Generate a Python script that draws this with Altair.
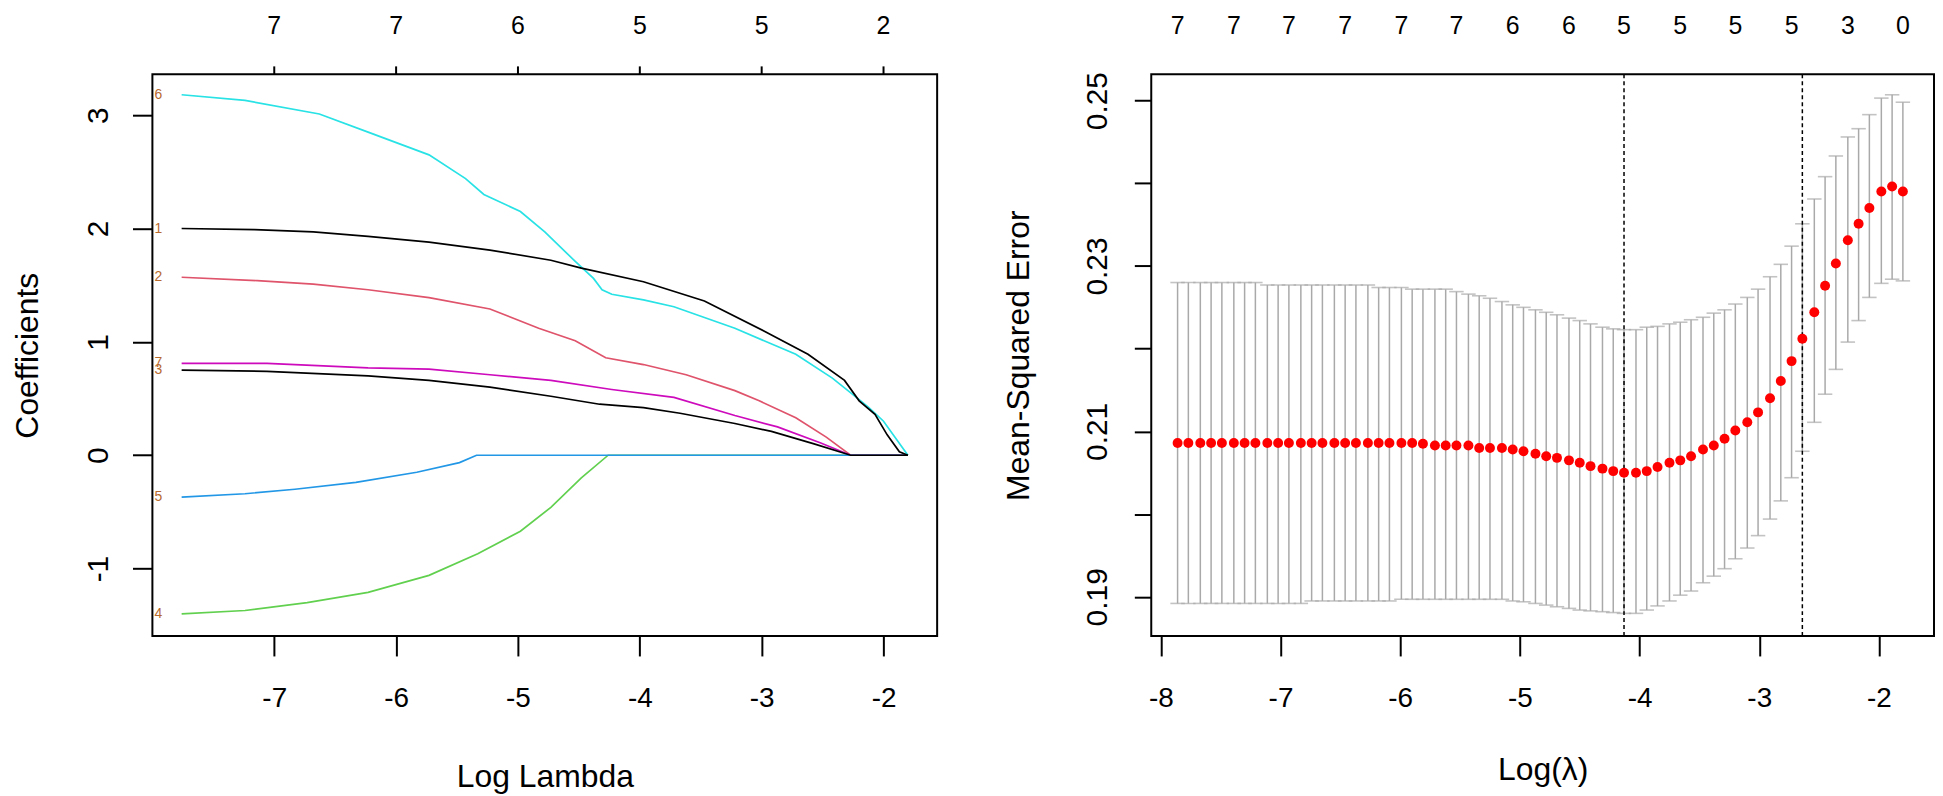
import altair as alt
import pandas as pd

FONT = "Liberation Sans"

# ---------------- Left panel: coefficient paths ----------------
v6_x = [-7.76, -7.24, -6.63, -6.23, -5.73, -5.43, -5.28, -4.98, -4.78, -4.53, -4.38, -4.31, -4.23, -3.97, -3.72, -3.22, -2.72, -2.42, -2.21, -2.12, -2.00, -1.80]
v6_y = [3.18, 3.13, 3.01, 2.85, 2.65, 2.44, 2.30, 2.15, 1.97, 1.71, 1.56, 1.46, 1.42, 1.37, 1.31, 1.12, 0.89, 0.68, 0.50, 0.42, 0.30, 0.00]
v1_x = [-7.76, -7.16, -6.68, -6.23, -5.73, -5.23, -4.73, -4.48, -3.97, -3.47, -2.97, -2.62, -2.32, -2.20, -2.07, -1.97, -1.87, -1.80]
v1_y = [2.00, 1.99, 1.97, 1.93, 1.88, 1.81, 1.72, 1.65, 1.53, 1.36, 1.09, 0.89, 0.66, 0.48, 0.36, 0.18, 0.03, 0.00]
v2_x = [-7.76, -7.14, -6.68, -6.23, -5.73, -5.23, -4.83, -4.53, -4.28, -3.97, -3.62, -3.22, -3.02, -2.72, -2.47, -2.27, -1.80]
v2_y = [1.57, 1.54, 1.51, 1.46, 1.39, 1.29, 1.12, 1.01, 0.86, 0.80, 0.71, 0.57, 0.48, 0.33, 0.16, 0.00, 0.00]
v7_x = [-7.76, -7.06, -6.23, -5.73, -5.23, -4.73, -4.23, -3.72, -3.22, -2.87, -2.52, -2.27, -1.80]
v7_y = [0.81, 0.81, 0.77, 0.76, 0.71, 0.66, 0.58, 0.51, 0.35, 0.25, 0.11, 0.00, 0.00]
v3_x = [-7.76, -7.06, -6.23, -5.73, -5.23, -4.73, -4.33, -3.97, -3.67, -3.22, -2.92, -2.57, -2.27, -1.80]
v3_y = [0.75, 0.74, 0.70, 0.66, 0.60, 0.52, 0.45, 0.42, 0.37, 0.28, 0.21, 0.10, 0.00, 0.00]
v5_x = [-7.76, -7.24, -6.83, -6.33, -5.83, -5.48, -5.34, -1.80]
v5_y = [-0.37, -0.34, -0.30, -0.24, -0.15, -0.065, 0.00, 0.00]
v4_x = [-7.76, -7.24, -6.73, -6.23, -5.73, -5.33, -4.98, -4.73, -4.48, -4.26, -1.80]
v4_y = [-1.40, -1.37, -1.30, -1.21, -1.06, -0.87, -0.67, -0.46, -0.20, 0.00, 0.00]

# drawing order, label, colour
paths = [
    ("4", v4_x, v4_y, "#61D04F"),
    ("2", v2_x, v2_y, "#DF536B"),
    ("7", v7_x, v7_y, "#CD0BBC"),
    ("5", v5_x, v5_y, "#2297E6"),
    ("6", v6_x, v6_y, "#28E2E5"),
    ("1", v1_x, v1_y, "#000000"),
    ("3", v3_x, v3_y, "#000000"),
]

top_left_at = [-7, -6, -5, -4, -3, -2]
top_left_labels = ["7", "7", "6", "5", "5", "2"]

# ---------------- Right panel: cross-validation curve ----------------
log_lambda = [-7.86, -7.77, -7.67, -7.58, -7.49, -7.39, -7.30, -7.21, -7.11, -7.02,
              -6.93, -6.83, -6.74, -6.65, -6.55, -6.46, -6.37, -6.27, -6.18, -6.09,
              -5.99, -5.90, -5.81, -5.71, -5.62, -5.53, -5.43, -5.34, -5.25, -5.15,
              -5.06, -4.97, -4.87, -4.78, -4.69, -4.59, -4.50, -4.41, -4.31, -4.22,
              -4.13, -4.03, -3.94, -3.85, -3.75, -3.66, -3.57, -3.47, -3.38, -3.29,
              -3.20, -3.10, -3.01, -2.91, -2.82, -2.73, -2.64, -2.54, -2.45, -2.36,
              -2.26, -2.17, -2.08, -1.98, -1.89, -1.80]
cvm = [0.2086, 0.2086, 0.2086, 0.2086, 0.2086, 0.2086, 0.2086, 0.2086, 0.2086, 0.2086,
       0.2086, 0.2086, 0.2086, 0.2086, 0.2086, 0.2086, 0.2086, 0.2086, 0.2086, 0.2086,
       0.2086, 0.2086, 0.2085, 0.2083, 0.2083, 0.2083, 0.2083, 0.2080, 0.2080, 0.2080,
       0.2078, 0.2076, 0.2073, 0.2070, 0.2068, 0.2065, 0.2062, 0.2058, 0.2055, 0.2052,
       0.2050, 0.2050, 0.2052, 0.2057, 0.2062, 0.2065, 0.2070, 0.2078, 0.2083, 0.2091,
       0.2101, 0.2111, 0.2123, 0.2140, 0.2161, 0.2185, 0.2212, 0.2244, 0.2276, 0.2303,
       0.2331, 0.2351, 0.2370, 0.2390, 0.2396, 0.2390]
cvup = [0.2280, 0.2280, 0.2280, 0.2280, 0.2280, 0.2280, 0.2280, 0.2280, 0.2277, 0.2277,
        0.2277, 0.2277, 0.2277, 0.2277, 0.2277, 0.2277, 0.2277, 0.2277, 0.2274, 0.2274,
        0.2274, 0.2272, 0.2272, 0.2272, 0.2272, 0.2269, 0.2266, 0.2264, 0.2261, 0.2257,
        0.2253, 0.2250, 0.2247, 0.2244, 0.2241, 0.2237, 0.2234, 0.2230, 0.2226, 0.2224,
        0.2223, 0.2223, 0.2226, 0.2227, 0.2230, 0.2232, 0.2235, 0.2238, 0.2243, 0.2247,
        0.2254, 0.2262, 0.2272, 0.2287, 0.2302, 0.2324, 0.2351, 0.2381, 0.2408, 0.2433,
        0.2456, 0.2466, 0.2483, 0.2503, 0.2507, 0.2498]
cvlo = [0.1892, 0.1892, 0.1892, 0.1892, 0.1892, 0.1892, 0.1892, 0.1892, 0.1892, 0.1892,
        0.1892, 0.1892, 0.1895, 0.1895, 0.1895, 0.1895, 0.1895, 0.1895, 0.1895, 0.1895,
        0.1897, 0.1897, 0.1897, 0.1897, 0.1897, 0.1897, 0.1897, 0.1897, 0.1897, 0.1897,
        0.1895, 0.1894, 0.1892, 0.1890, 0.1888, 0.1886, 0.1884, 0.1883, 0.1882, 0.1881,
        0.1880, 0.1880, 0.1884, 0.1889, 0.1895, 0.1902, 0.1907, 0.1917, 0.1925, 0.1934,
        0.1946, 0.1959, 0.1974, 0.1994, 0.2016, 0.2044, 0.2076, 0.2111, 0.2145, 0.2175,
        0.2208, 0.2234, 0.2262, 0.2279, 0.2284, 0.2282]
nzero_labels = ["7", "7", "7", "7", "7", "7", "6", "6", "5", "5", "5", "5", "3", "0"]
lambda_lines = [-4.13, -2.64]

# ---------------- data frames ----------------
rows = []
for lab, xs, ys, col in paths:
    for k, (xv, yv) in enumerate(zip(xs, ys)):
        rows.append({"var": lab, "x": xv, "y": yv, "k": k})
coef_df = pd.DataFrame(rows)
lab_df = pd.DataFrame({"label": [p[0] for p in paths], "y": [p[2][0] for p in paths]})
top_left_df = pd.DataFrame({"x": top_left_at, "label": top_left_labels})

cv_df = pd.DataFrame({"x": log_lambda, "m": cvm, "up": cvup, "lo": cvlo})
top_right_df = pd.DataFrame({"x": log_lambda[::5], "label": nzero_labels})
vline_df = pd.DataFrame({"x": lambda_lines})

TOP_FS = 25
TOP_Y = -41

# ---------------- left chart ----------------
LW, LH = 788, 564
lx_scale = alt.Scale(domain=[-8.0, -1.56], nice=False, zero=False)
ly_scale = alt.Scale(domain=[-1.595, 3.36], nice=False, zero=False)
lx_axis = alt.Axis(values=top_left_at, labelExpr="'' + datum.value", tickSize=20,
                   labelPadding=51, labelBaseline="alphabetic", title="Log Lambda",
                   titleX=LW / 2, titleY=151, titleBaseline="alphabetic", titleAlign="center")
ly_axis = alt.Axis(values=[-1, 0, 1, 2, 3], labelExpr="'' + datum.value", tickSize=20,
                   labelPadding=25, labelAngle=270, labelAlign="center", labelBaseline="alphabetic",
                   labelFontSize=30,
                   title="Coefficients", titleX=-115, titleY=LH / 2, titleAngle=270,
                   titleBaseline="alphabetic", titleAlign="center")
LX = alt.X("x:Q", scale=lx_scale, axis=lx_axis)
LY = alt.Y("y:Q", scale=ly_scale, axis=ly_axis)

left_layers = []
for lab, xs, ys, col in paths:
    left_layers.append(
        alt.Chart(coef_df).transform_filter(alt.datum.var == lab)
        .mark_line(color=col, strokeWidth=1.7)
        .encode(x=LX, y=LY, order="k:Q")
    )
left_layers.append(
    alt.Chart(lab_df).mark_text(font=FONT, fontSize=14, color="#B86A2E", align="center", baseline="middle")
    .encode(x=alt.value(6), y=LY, text="label:N")
)
left_layers.append(
    alt.Chart(top_left_df).mark_rule(color="black", strokeWidth=2)
    .encode(x=LX, y=alt.value(0), y2=alt.value(-8))
)
left_layers.append(
    alt.Chart(top_left_df).mark_text(font=FONT, fontSize=TOP_FS, color="black", align="center",
                                     baseline="alphabetic")
    .encode(x=LX, y=alt.value(TOP_Y), text="label:N")
)
left = alt.layer(*left_layers).properties(width=LW, height=LH)

# ---------------- right chart ----------------
RW, RH = 786, 564
rx_scale = alt.Scale(domain=[-8.08, -1.54], nice=False, zero=False)
ry_scale = alt.Scale(domain=[0.18526, 0.25317], nice=False, zero=False)
rx_axis = alt.Axis(values=[-8, -7, -6, -5, -4, -3, -2], labelExpr="'' + datum.value", tickSize=20,
                   labelPadding=51, labelBaseline="alphabetic", title="Log(λ)",
                   titleX=RW / 2, titleY=144, titleBaseline="alphabetic", titleAlign="center")
ry_axis = alt.Axis(values=[0.19, 0.20, 0.21, 0.22, 0.23, 0.24, 0.25],
                   labelExpr="round(datum.value * 100) % 2 == 1 ? format(datum.value, '.2f') : ''",
                   tickSize=17, labelPadding=28, labelAngle=270, labelAlign="center",
                   labelBaseline="alphabetic", labelFontSize=30,
                   title="Mean-Squared Error", titleX=-123, titleY=RH / 2,
                   titleAngle=270, titleBaseline="alphabetic", titleAlign="center")
RX = alt.X("x:Q", scale=rx_scale, axis=rx_axis)

base = alt.Chart(cv_df)
bars = base.mark_rule(color="#A9A9A9", strokeWidth=1.5).encode(
    x=RX, y=alt.Y("lo:Q", scale=ry_scale, axis=ry_axis), y2="up:Q")
cap_up = base.mark_tick(color="#A9A9A9", orient="horizontal", size=14.5, thickness=1.6).encode(
    x=RX, y=alt.Y("up:Q", scale=ry_scale, axis=ry_axis))
cap_lo = base.mark_tick(color="#A9A9A9", orient="horizontal", size=14.5, thickness=1.6).encode(
    x=RX, y=alt.Y("lo:Q", scale=ry_scale, axis=ry_axis))
dots = base.mark_circle(color="#FF0000", size=100, opacity=1).encode(
    x=RX, y=alt.Y("m:Q", scale=ry_scale, axis=ry_axis))
vlines = alt.Chart(vline_df).mark_rule(color="black", strokeWidth=1.5, strokeDash=[4, 3]).encode(x=RX)
top_right = alt.Chart(top_right_df).mark_text(font=FONT, fontSize=TOP_FS, color="black", align="center",
                                              baseline="alphabetic").encode(
    x=RX, y=alt.value(TOP_Y), text="label:N")

right = alt.layer(bars, cap_up, cap_lo, vlines, dots, top_right).properties(width=RW, height=RH)

chart = alt.hconcat(left, right, spacing=215, bounds="flush").properties(
    padding={"left": 3, "top": 3, "right": 0, "bottom": 0}
).configure_view(stroke="black", strokeWidth=2).configure_axis(
    domain=False, grid=False, tickColor="black", tickWidth=2,
    labelFont=FONT, labelFontSize=28, labelColor="black",
    titleFont=FONT, titleFontSize=32, titleFontWeight="normal", titleColor="black",
    labelOverlap=False, labelFlush=False
)

chart.save("out.html", embed_options={"renderer": "svg", "actions": False})
